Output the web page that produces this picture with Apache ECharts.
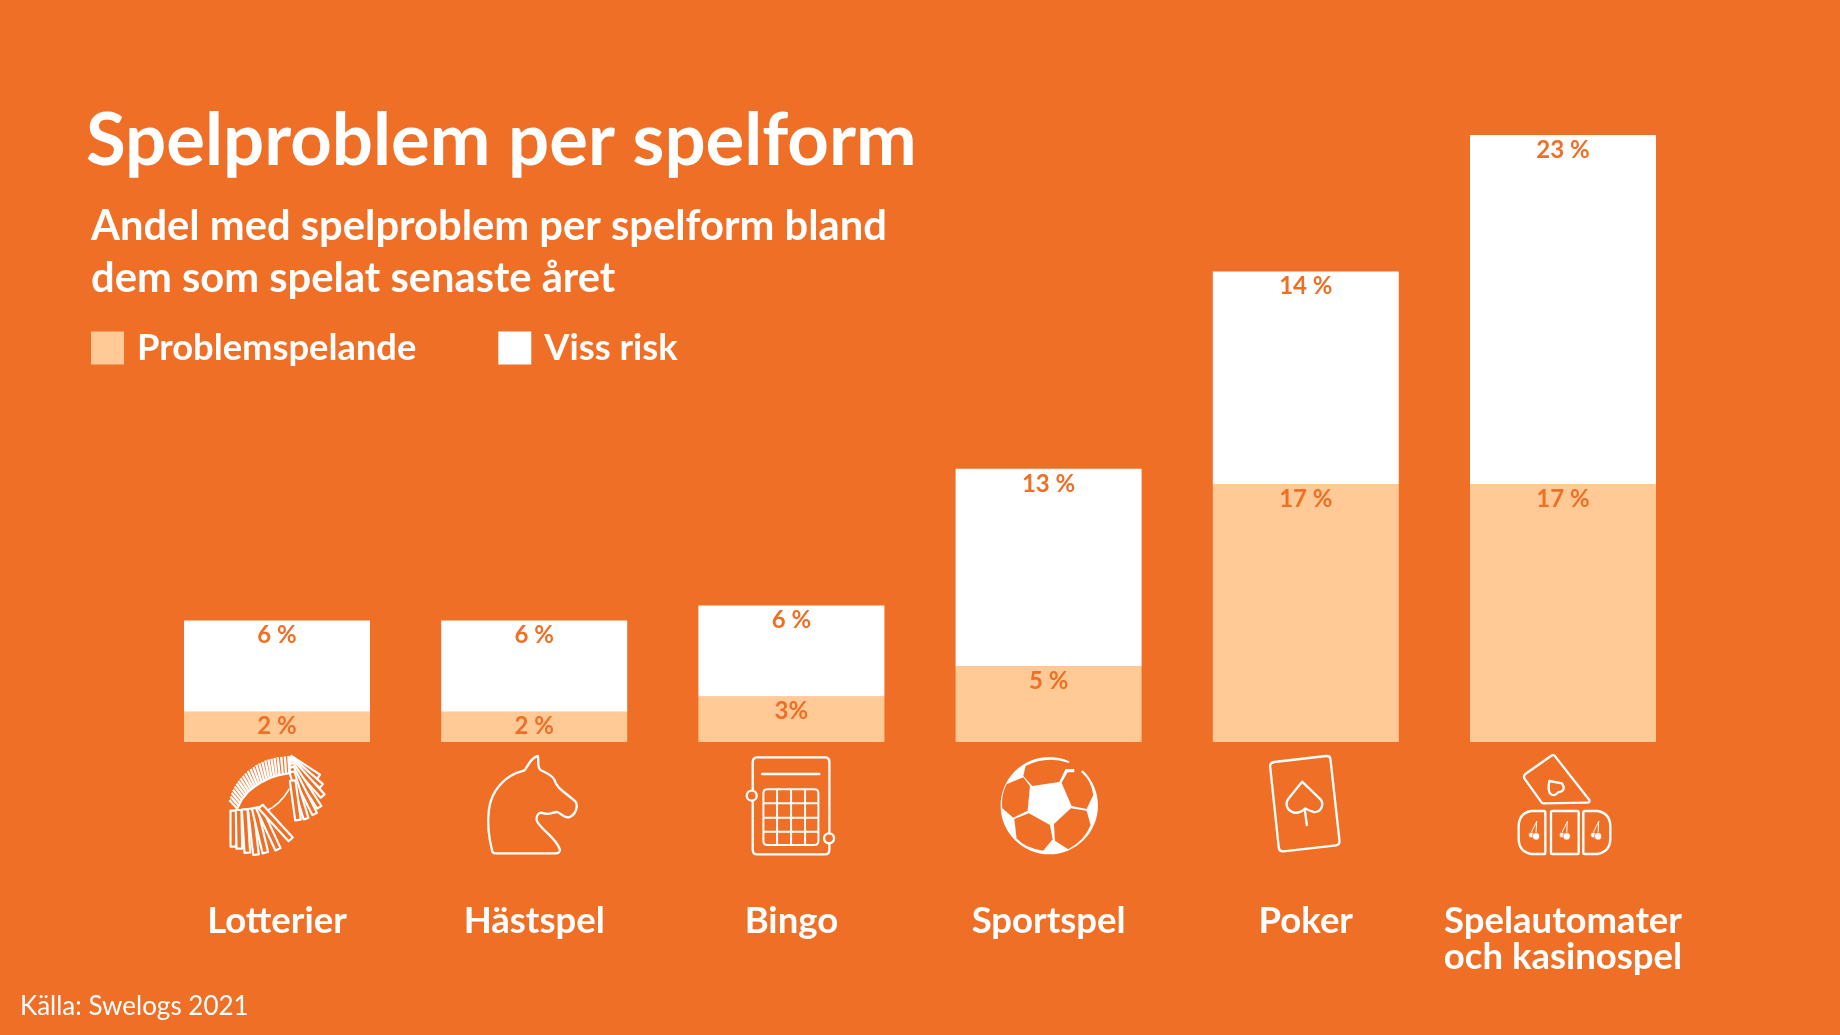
<!DOCTYPE html>
<html><head><meta charset="utf-8">
<style>html,body{margin:0;padding:0;background:#EF6F26}#c{width:1840px;height:1035px}</style>
<script src="https://cdn.jsdelivr.net/npm/echarts@6/dist/echarts.min.js"></script></head>
<body><div id="c"></div><script>
const categories = ['Lotterier','Hästspel','Bingo','Sportspel','Poker','Spelautomater\noch kasinospel'];
const problemValues = [2,2,3,5,17,17];
const riskValues = [6,6,6,13,14,23];
const problemLabels = ['2 %','2 %','3%','5 %','17 %','17 %'];
const riskLabels = ['6 %','6 %','6 %','13 %','14 %','23 %'];
const seriesNames = ['Problemspelande','Viss risk'];

const BG='#EF6F26', LIGHT='#FFCA96', WHITE='#FFFFFF', FONT='Lato,"Liberation Sans",sans-serif';
const chart = echarts.init(document.getElementById('c'),null,{renderer:'canvas'});
const lbl = arr => ({show:true,position:'insideTop',distance:3,color:BG,fontFamily:FONT,fontWeight:'bold',fontSize:24,formatter:p=>arr[p.dataIndex]});
chart.setOption({
  backgroundColor:BG, animation:false,
  title:[
    {text:'Spelproblem per spelform',left:86,top:105,padding:0,textStyle:{color:WHITE,fontFamily:FONT,fontWeight:'bold',fontSize:72.5}},
    {text:'Andel med spelproblem per spelform bland\ndem som spelat senaste året',left:91,top:201,padding:0,textStyle:{color:WHITE,fontFamily:FONT,fontWeight:'bold',fontSize:41.7,lineHeight:52}},
    {text:'Källa: Swelogs 2021',left:20,top:994,padding:0,textStyle:{color:WHITE,fontFamily:FONT,fontWeight:'normal',fontSize:26}}
  ],
  legend:{left:91,top:330,padding:0,itemWidth:33,itemHeight:33,itemGap:82,icon:'rect',selectedMode:false,
    data:seriesNames,textStyle:{color:WHITE,fontFamily:FONT,fontWeight:'bold',fontSize:36.3,padding:[2,0,0,8]}},
  grid:{left:148.4,right:148.4,top:135,bottom:293},
  xAxis:{type:'category',data:categories,axisLine:{show:false},axisTick:{show:false},
    axisLabel:{interval:0,margin:161,color:WHITE,fontFamily:FONT,fontWeight:'bold',fontSize:36.5,lineHeight:36,verticalAlign:'top'}},
  yAxis:{type:'value',min:0,max:40,show:false,splitLine:{show:false}},
  series:[
    {name:seriesNames[0],type:'bar',stack:'a',barWidth:186,data:problemValues,itemStyle:{color:LIGHT},label:lbl(problemLabels)},
    {name:seriesNames[1],type:'bar',stack:'a',barWidth:186,data:riskValues,itemStyle:{color:WHITE},label:lbl(riskLabels)}
  ]
});

// Pictograms below the bars, drawn in a 345-unit box and placed at each category's x.
const S={stroke:WHITE,fill:null,lineWidth:7,lineJoin:'round',lineCap:'round'};
let shapeId=0;
const path=(d,style)=>{const name='iconPath'+(shapeId++);echarts.graphic.registerShape(name,echarts.graphic.extendPath(d));return {type:name,style:Object.assign({},S,style||{})};};
const circ=(cx,cy,r,style)=>({type:'circle',shape:{cx,cy,r},style:Object.assign({},S,style||{})});
function ticket(x0,y0,x1,y1,w){
  const dx=x1-x0,dy=y1-y0,l=Math.hypot(dx,dy),nx=-dy/l*w/2,ny=dx/l*w/2;
  const f=n=>n.toFixed(1);
  return path(`M${f(x0+nx)} ${f(y0+ny)}L${f(x1+nx)} ${f(y1+ny)}L${f(x1-nx)} ${f(y1-ny)}L${f(x0-nx)} ${f(y0-ny)}Z`,{fill:BG,lineWidth:6.5});
}
function lotteryIcon(){
  const out=[];
  const outer=[[28,150],[40,116],[58,88],[82,64],[110,44],[140,30],[170,22],[205,18]];
  const inner=[[52,176],[66,148],[84,126],[104,110],[126,96],[150,84],[176,76],[208,70]];
  const pt=(a,t)=>{const s=t*(a.length-1),i=Math.min(Math.floor(s),a.length-2),u=s-i;return [a[i][0]+(a[i+1][0]-a[i][0])*u,a[i][1]+(a[i+1][1]-a[i][1])*u];};
  const strips=24;
  let d='';
  for(let i=0;i<strips;i++){const t=i/(strips-1),a=pt(outer,t),b=pt(inner,t);d+=`M${a[0].toFixed(1)} ${a[1].toFixed(1)}L${b[0].toFixed(1)} ${b[1].toFixed(1)}`;}
  out.push(path(d,{lineWidth:7,lineCap:'butt'}));
  out.push(path('M'+inner.map(p=>p.join(' ')).join('L'),{lineWidth:6}));
  out.push(path('M135 185Q180 165 207 118',{lineWidth:5}));
  [[210,24,296,80],[212,28,304,108],[214,34,308,138],[214,42,298,172],[214,52,284,192],[216,66,258,206]].forEach(t=>out.push(ticket(t[0],t[1],t[2],t[3],15)));
  out.push(ticket(218,92,234,210,17));
  [[40,182,40,290],[56,180,58,296],[74,178,82,308],[92,176,108,314],[104,174,136,308],[116,172,174,298],[122,170,212,268]].forEach(t=>out.push(ticket(t[0],t[1],t[2],t[3],17)));
  return out;
}
function horseIcon(){return [path('M45 303C34 260 30 220 35 180C42 120 85 75 140 62C152 55 155 25 182 18C186 30 178 50 190 60C205 68 225 75 232 90C238 115 262 125 295 155C304 170 295 195 275 202C260 205 252 190 240 186C228 186 215 196 200 190C185 184 177 195 178 210C185 235 235 260 248 298C250 306 243 310 235 310L55 310Q47 310 45 303Z')];}
function bingoIcon(){
  const o=[path('M69 22L271 22Q285 22 285 36L285 299Q285 313 271 313L69 313Q55 313 55 299L55 36Q55 22 69 22Z')];
  o.push(path('M83 72L255 72'));
  o.push(path('M99 118L240 118Q252 118 252 130L252 273Q252 285 240 285L99 285Q87 285 87 273L87 130Q87 118 99 118ZM128 118L128 285M170 118L170 285M212 118L212 285M87 160L252 160M87 203L252 203M87 245L252 245',{lineWidth:6}));
  o.push(circ(52,137,15,{fill:BG}));o.push(circ(284,265,15,{fill:BG}));
  return o;
}
function soccerIcon(){
  const o=[circ(173,167,146,{fill:WHITE,stroke:null,lineWidth:0})];
  const f={fill:BG,stroke:null,lineWidth:0};
  o.push(path('M102 48Q165 16 232 39L240 12L300 40L268 65Q300 92 305 135L285 177L240 168L210 98L228 67L248 67L248 57L222 57L203 96L122 108L95 78Z',f));
  o.push(path('M95 82L115 108L108 182L65 203L32 175Q28 135 45 103Z',f));
  o.push(path('M68 207L112 190L175 225L183 268L155 302Q100 295 75 265Z',f));
  o.push(path('M187 222L238 175L285 182L297 225Q280 270 230 298L190 272Z',f));
  return o;
}
function pokerIcon(){return [
  path('M76 36L232 18Q244 17 245 28L272 272Q273 284 262 286L104 304Q92 305 90 294L64 50Q63 38 76 36Z'),
  path('M160 95L215 148C228 165 215 188 195 186Q180 182 170 175Q155 190 135 188C112 180 108 160 120 145ZM168 178L174 225')
];}
function slotIcon(){
  const o=[
    path('M135 18Q142 12 148 20L250 150Q252 158 245 158L112 160Q107 160 105 155L55 85Q52 78 58 72Z'),
    path('M130 93L168 100Q180 118 165 125Q160 125 155 128Q145 142 132 130Q125 120 130 93Z'),
    path('M75 183L115 183Q118 183 118 187L118 308Q118 312 115 312L75 312Q38 305 38 265L38 230Q38 190 75 183Z'),
    path('M139 183L214 183Q218 183 218 187L218 308Q218 312 214 312L139 312Q135 312 135 308L135 187Q135 183 139 183Z'),
    path('M236 183L275 183Q313 190 313 230L313 265Q313 305 275 312L236 312Q232 312 232 308L232 187Q232 183 236 183Z')
  ];
  [0,92,186].forEach(dx=>{
    o.push(path(`M${92+dx} 215L${90+dx} 250M${92+dx} 215L${77+dx} 245`,{lineWidth:3}));
    o.push(circ(76+dx,255,8,{fill:WHITE,stroke:BG,lineWidth:2}));
    o.push(circ(90+dx,259,11,{fill:WHITE,stroke:BG,lineWidth:2}));
  });
  return o;
}
const icons=[lotteryIcon,horseIcon,bingoIcon,soccerIcon,pokerIcon,slotIcon];
chart.setOption({graphic:icons.map((fn,i)=>({
  type:'group',x:chart.convertToPixel({xAxisIndex:0},i)-57,y:750,scaleX:1/3,scaleY:1/3,silent:true,children:fn()
}))});
</script></body></html>
